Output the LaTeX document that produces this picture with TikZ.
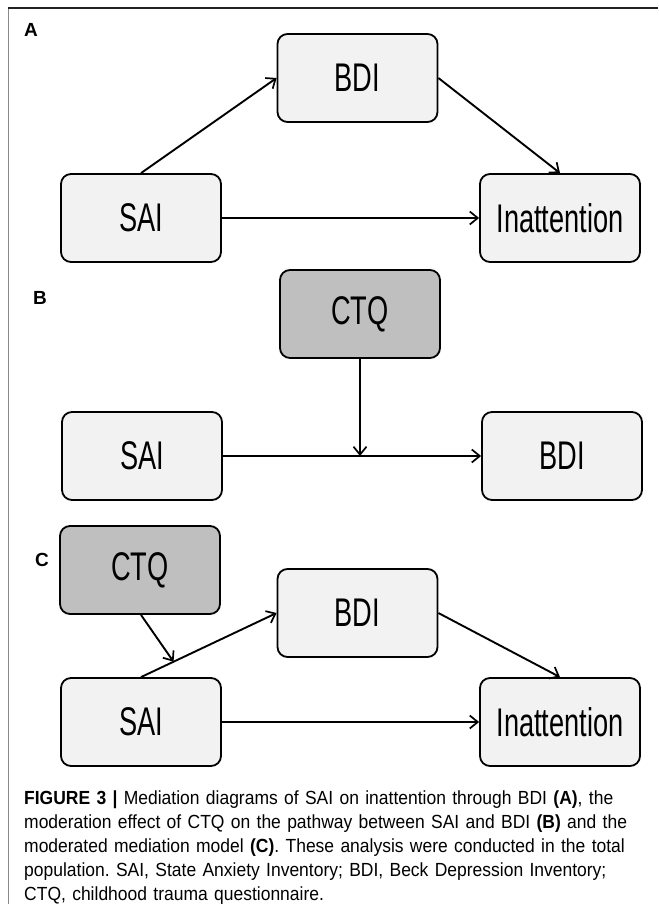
\documentclass[tikz,border=0pt]{standalone}
\usepackage{fontspec}
\setmainfont{Liberation Sans}
\newfontfamily\boxfont[FakeStretch=0.68]{Liberation Sans}
\newfontfamily\capfont[FakeStretch=0.92]{Liberation Sans}
\usetikzlibrary{arrows.meta,calc}
\definecolor{boxfill}{HTML}{F2F2F2}
\definecolor{ctqfill}{HTML}{BFBFBF}
\definecolor{framedark}{HTML}{222222}
\definecolor{framelight}{HTML}{8A8A8A}
\tikzset{
  nbox/.style={draw=black, line width=1.8pt, rounded corners=10pt, fill=boxfill,
    minimum width=160pt, minimum height=88pt, inner sep=0pt,
    font=\boxfont\fontsize{40}{46}\selectfont},
  ctqbox/.style={nbox, fill=ctqfill},
  conn/.style={line width=1.9pt, -{Straight Barb[length=8pt,width=13pt,line width=1.7pt]}},
  plabel/.style={font=\bfseries\fontsize{19}{22}\selectfont, inner sep=0pt},
}
\frenchspacing
\begin{document}
\begin{tikzpicture}[x=1pt,y=-1pt]
\useasboundingbox (0,0) rectangle (658,904);
\fill[white] (0,0) rectangle (658,904);
% frame
\draw[framelight, line width=1pt] (8,8) -- (8,904);
\draw[framedark, line width=1.4pt] (8,8) -- (658,8);

% Panel A
\node[plabel] (la) at (31,30) {A};
\node[nbox] (aBDI) at (357.5,78) {BDI};
\node[nbox] (aSAI) at (141,218) {SAI};
\node[nbox] (aIna) at (560,218) {Inattention};
\draw[conn] (aSAI.north) -- (aBDI.west);
\draw[conn] (aBDI.east) -- (aIna.north);
\draw[conn] (aSAI.east) -- (aIna.west);

% Panel B
\node[plabel] (lb) at (40,298) {B};
\node[ctqbox] (bCTQ) at (360,314) {CTQ};
\node[nbox] (bSAI) at (142,456) {SAI};
\node[nbox] (bBDI) at (562,456) {BDI};
\coordinate (bmid) at (bCTQ.south |- bSAI.east);
\draw[conn] (bSAI.east) -- (bBDI.west);
\draw[conn] (bCTQ.south) -- (bmid);

% Panel C
\node[plabel] (lc) at (42,560) {C};
\node[ctqbox] (cCTQ) at (140,570) {CTQ};
\node[nbox] (cBDI) at (357.5,613) {BDI};
\node[nbox] (cSAI) at (141,722) {SAI};
\node[nbox] (cIna) at (560,722) {Inattention};
\draw[conn] (cSAI.north) -- (cBDI.west);
\coordinate (cmid) at ($(cSAI.north)!0.24!(cBDI.west)$);
\draw[conn] ($(cCTQ.south)+(1,0)$) -- (cmid);
\draw[conn] (cBDI.east) -- (cIna.north);
\draw[conn] (cSAI.east) -- (cIna.west);

% Caption
\node[anchor=base west, inner sep=0pt, text width=620pt, align=left,
  font=\capfont\fontsize{19}{24}\selectfont] (cap) at (24,804)
{\textbf{FIGURE 3 |} Mediation diagrams of SAI on inattention through BDI \textbf{(A)}, the\\
moderation effect of CTQ on the pathway between SAI and BDI \textbf{(B)} and the\\
moderated mediation model \textbf{(C)}. These analysis were conducted in the total\\
population. SAI, State Anxiety Inventory; BDI, Beck Depression Inventory;\\
CTQ, childhood trauma questionnaire.};
\end{tikzpicture}
\end{document}
